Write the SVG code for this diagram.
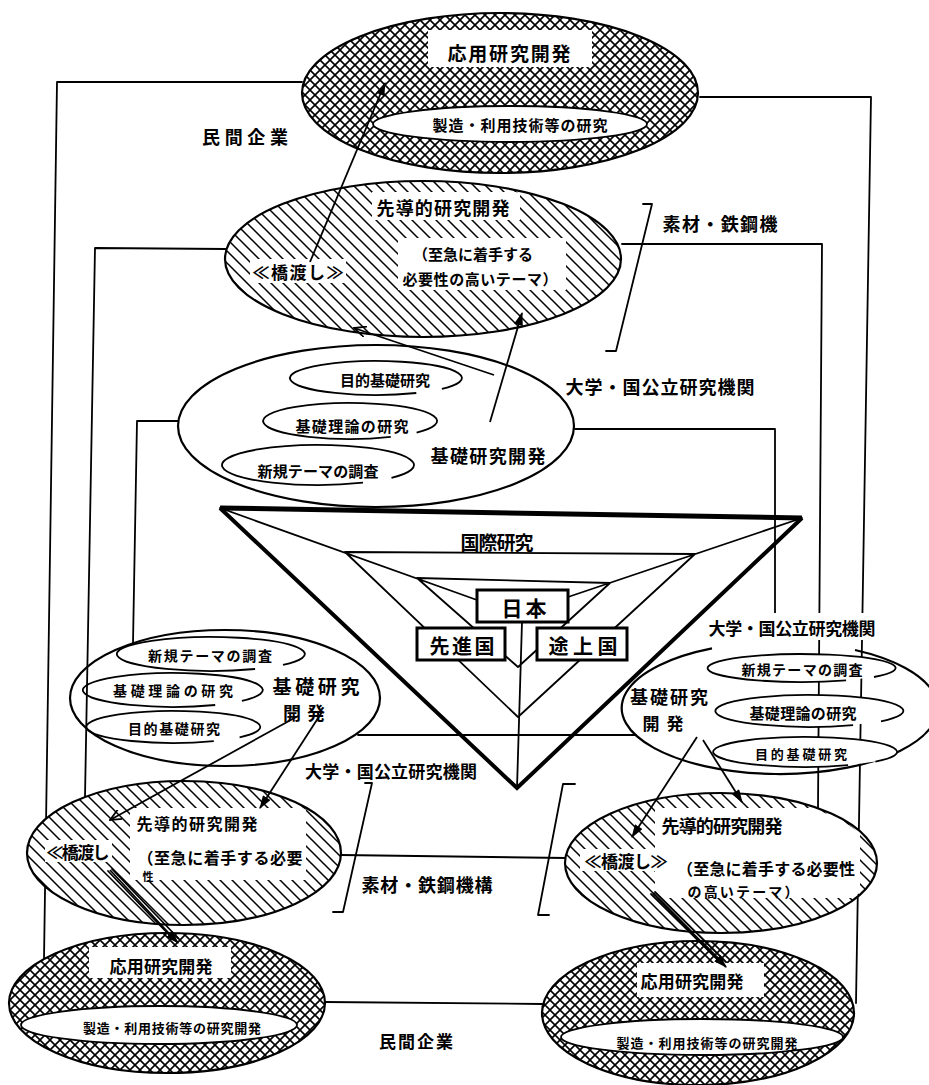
<svg xmlns="http://www.w3.org/2000/svg" width="929" height="1085" viewBox="0 0 929 1085">
<style>
.ln{fill:none;stroke:#000;stroke-width:1.8;stroke-linecap:round;stroke-linejoin:round}
.ol{fill:none;stroke:#000;stroke-width:2.2}
.ie{fill:none;stroke:#000;stroke-width:1.8}
.iw{fill:#fff;stroke:#000;stroke-width:1.8}
.wt{fill:#fff;stroke:none}
.t{font-family:"Noto Sans CJK JP","Noto Sans CJK SC",sans-serif;font-weight:bold;fill:#000;text-anchor:middle;dominant-baseline:central}
.ar{fill:none;stroke:#000;stroke-width:1.8;marker-end:url(#ah)}
.ao{fill:none;stroke:#000;stroke-width:1.8;marker-end:url(#ao)}
.box{fill:#fff;stroke:#000;stroke-width:3}
</style>
<defs>
<pattern id="xh" width="10" height="10" patternUnits="userSpaceOnUse"><path d="M-1,-1L11,11M11,-1L-1,11" stroke="#000" stroke-width="1.6"/></pattern>
<pattern id="dg" width="12" height="12" patternUnits="userSpaceOnUse"><path d="M-1,-1L13,13M-1,11L1,13M11,-1L13,1" stroke="#000" stroke-width="1.5"/></pattern>
<marker id="ah" viewBox="0 0 12 8" refX="11" refY="4" markerWidth="14" markerHeight="9" markerUnits="userSpaceOnUse" orient="auto"><path d="M0,0L12,4L0,8z" fill="#000"/></marker>
<marker id="ao" viewBox="0 0 12 10" refX="11" refY="5" markerWidth="14" markerHeight="11" markerUnits="userSpaceOnUse" orient="auto"><path d="M0,0L11,5L0,10" fill="none" stroke="#000" stroke-width="1.6"/></marker>
<clipPath id="c1"><ellipse cx="500" cy="93" rx="196" ry="78"/></clipPath>
<clipPath id="c2"><ellipse cx="423" cy="259" rx="196" ry="76"/></clipPath>
<clipPath id="c6"><ellipse cx="184" cy="853" rx="155" ry="70"/></clipPath>
<clipPath id="c7"><ellipse cx="721" cy="863" rx="154" ry="68"/></clipPath>
<clipPath id="c8"><ellipse cx="167" cy="1003" rx="156" ry="68"/></clipPath>
<clipPath id="c9"><ellipse cx="698" cy="1013" rx="154" ry="70"/></clipPath>
</defs>
<rect width="929" height="1085" fill="#fff"/>

<g id="connectors">
<path class="ln" d="M302,82L57,82L44,959"/>
<path class="ln" d="M700,97L871,97L856,1003"/>
<path class="ln" d="M226,249L95,248L85,797"/>
<path class="ln" d="M622,244L822,244L818,808"/>
<path class="ln" d="M178,421L137,421L133,643"/>
<path class="ln" d="M575,429L775,429L775,613"/>
<path class="ln" d="M358,735L636,735"/>
<path class="ln" d="M341,855L566,858"/>
<path class="ln" d="M325,1002L542,1004"/>
<path class="ln" d="M643,204L652,204L616,351L606,351"/>
<path class="ln" d="M365,783L372,783L343,912L333,912"/>
<path class="ln" d="M575,784L563,784L538,915L549,915"/>
</g>

<g id="applied-top">
<ellipse cx="500" cy="93" rx="198" ry="80" fill="#fff"/>
<ellipse cx="500" cy="93" rx="198" ry="80" fill="url(#xh)"/>
<rect class="wt" x="428" y="30" width="164" height="37" clip-path="url(#c1)"/>
<ellipse class="iw" cx="510" cy="124" rx="137" ry="18"/>
<ellipse class="ol" cx="500" cy="93" rx="198" ry="80" stroke-width="2.6"/>
<text class="t" x="509" y="52" font-size="19" textLength="123">応用研究開発</text>
<text class="t" x="520" y="124" font-size="15" textLength="175">製造・利用技術等の研究</text>
</g>

<g id="leading-top">
<ellipse cx="423" cy="259" rx="198" ry="78" fill="#fff"/>
<ellipse cx="423" cy="259" rx="198" ry="78" fill="url(#dg)"/>
<g clip-path="url(#c2)">
<rect class="wt" x="372" y="192" width="148" height="28"/>
<rect class="wt" x="398" y="238" width="168" height="52"/>
<rect class="wt" x="250" y="259" width="96" height="24"/>
</g>
<ellipse class="ol" cx="423" cy="259" rx="198" ry="78"/>
<text class="t" x="443" y="207" font-size="18" textLength="133">先導的研究開発</text>
<text class="t" x="473" y="253" font-size="15" textLength="120">（至急に着手する</text>
<text class="t" x="480" y="278" font-size="15" textLength="155">必要性の高いテーマ）</text>
<text class="t" x="298" y="271" font-size="17" textLength="91">≪橋渡し≫</text>
</g>

<g id="basic-top">
<ellipse class="ol" cx="376" cy="426" rx="198" ry="81"/>
<path class="ie" d="M416.3,393A86,17 0 1 1 441.9,388.9"/>
<path class="ie" d="M390.8,436.9A87,18 0 1 1 416.6,432.6"/>
<path class="ie" d="M363,482.7A96,20 0 1 1 391.5,477.9"/>
<text class="t" x="385" y="379" font-size="15" textLength="90">目的基礎研究</text>
<text class="t" x="352" y="425" font-size="15" textLength="113">基礎理論の研究</text>
<text class="t" x="318" y="470" font-size="15" textLength="121">新規テーマの調査</text>
<text class="t" x="488" y="455" font-size="18" textLength="115">基礎研究開発</text>
</g>

<g id="international">
<path class="ln" stroke-width="1.6" d="M220,508L477,600M802,518L568,597M345,552L695,554M417,578L610,583M345,552L518,717L695,554M417,578L518,667L610,583M522,622L517,788"/>
<path d="M220,508L517,788L802,518" fill="none" stroke="#000" stroke-width="4" stroke-linejoin="miter"/>
<path d="M220,508L802,518" fill="none" stroke="#000" stroke-width="5"/>
<text class="t" x="497" y="541" font-size="19" textLength="73">国際研究</text>
<rect class="box" x="477" y="590" width="91" height="32"/>
<text class="t" x="524" y="607" font-size="21" textLength="45">日本</text>
<rect class="box" x="417" y="628" width="88" height="32"/>
<text class="t" x="462" y="645" font-size="20" textLength="65">先進国</text>
<rect class="box" x="537" y="628" width="90" height="32"/>
<text class="t" x="583" y="645" font-size="20" textLength="69">途上国</text>
</g>

<g id="basic-left">
<ellipse class="ol" cx="225" cy="698" rx="155" ry="68"/>
<path class="ie" d="M255.1,669A94,17 0 1 1 283,664.9"/>
<path class="ie" d="M215.2,705A90,17 0 1 1 241.9,700.9"/>
<path class="ie" d="M213.8,741.1A87,16 0 1 1 239.6,737.3"/>
<text class="t" x="210" y="655" font-size="14" textLength="124">新規テーマの調査</text>
<text class="t" x="173" y="690" font-size="14" textLength="120">基礎理論の研究</text>
<text class="t" x="174" y="728" font-size="14" textLength="92">目的基礎研究</text>
<text class="t" x="316" y="685" font-size="19" textLength="87">基礎研究</text>
<text class="t" x="304" y="712" font-size="18" textLength="42">開発</text>
</g>

<g id="basic-right">
<path class="ol" d="M855,650A158,66 0 1 1 712,648.4"/>
<path class="iw" d="M846.1,680.4A94,14 0 1 1 874,677"/>
<path class="iw" d="M853.1,725.1A94,16 0 1 1 881,721.3"/>
<path class="iw" d="M848.1,765.2A92,15 0 1 1 875.5,761.6"/>
<text class="t" x="802" y="669" font-size="14" textLength="121">新規テーマの調査</text>
<text class="t" x="803" y="712" font-size="15" textLength="107">基礎理論の研究</text>
<text class="t" x="801" y="753" font-size="13" textLength="92">目的基礎研究</text>
<text class="t" x="669" y="696" font-size="18" textLength="78">基礎研究</text>
<text class="t" x="663" y="722" font-size="17" textLength="41">開発</text>
</g>

<g id="leading-left">
<ellipse cx="184" cy="853" rx="157" ry="72" fill="#fff"/>
<ellipse cx="184" cy="853" rx="157" ry="72" fill="url(#dg)"/>
<g clip-path="url(#c6)">
<rect class="wt" x="130" y="808" width="176" height="72"/>
<rect class="wt" x="45" y="840" width="67" height="22"/>
</g>
<ellipse class="ol" cx="184" cy="853" rx="157" ry="72"/>
<text class="t" x="197" y="823" font-size="16" textLength="121">先導的研究開発</text>
<text class="t" x="78" y="851" font-size="17" textLength="63">≪橋渡し</text>
<text class="t" x="220" y="857" font-size="16" textLength="165">（至急に着手する必要</text>
<text class="t" x="148" y="876" font-size="11">性</text>
</g>

<g id="leading-right">
<ellipse cx="721" cy="863" rx="156" ry="70" fill="#fff"/>
<ellipse cx="721" cy="863" rx="156" ry="70" fill="url(#dg)"/>
<g clip-path="url(#c7)">
<rect class="wt" x="655" y="808" width="205" height="90"/>
<rect class="wt" x="580" y="849" width="92" height="22"/>
</g>
<ellipse class="ol" cx="721" cy="863" rx="156" ry="70"/>
<text class="t" x="722" y="825" font-size="18" textLength="121">先導的研究開発</text>
<text class="t" x="626" y="860" font-size="17" textLength="83">≪橋渡し≫</text>
<text class="t" x="766" y="868" font-size="16" textLength="178">（至急に着手する必要性</text>
<text class="t" x="743" y="891" font-size="14" textLength="111">の高いテーマ）</text>
</g>

<g id="applied-left">
<ellipse cx="167" cy="1003" rx="158" ry="70" fill="#fff"/>
<ellipse cx="167" cy="1003" rx="158" ry="70" fill="url(#xh)"/>
<rect class="wt" x="89" y="947" width="142" height="31" clip-path="url(#c8)"/>
<ellipse class="iw" cx="159" cy="1025" rx="138" ry="19"/>
<ellipse class="ol" cx="167" cy="1003" rx="158" ry="70" stroke-width="2.6"/>
<text class="t" x="161" y="965" font-size="17" textLength="103">応用研究開発</text>
<text class="t" x="172" y="1027" font-size="13" textLength="178">製造・利用技術等の研究開発</text>
</g>

<g id="applied-right">
<ellipse cx="698" cy="1013" rx="156" ry="72" fill="#fff"/>
<ellipse cx="698" cy="1013" rx="156" ry="72" fill="url(#xh)"/>
<rect class="wt" x="637" y="963" width="127" height="34" clip-path="url(#c9)"/>
<ellipse class="iw" cx="702" cy="1037" rx="141" ry="18"/>
<ellipse class="ol" cx="698" cy="1013" rx="156" ry="72" stroke-width="2.6"/>
<text class="t" x="692" y="980" font-size="17" textLength="103">応用研究開発</text>
<text class="t" x="707" y="1042" font-size="13" textLength="181">製造・利用技術等の研究開発</text>
</g>

<g id="labels">
<text class="t" x="245" y="136" font-size="18" textLength="86">民間企業</text>
<text class="t" x="720" y="223" font-size="18" textLength="115">素材・鉄鋼機</text>
<text class="t" x="660" y="386" font-size="18" textLength="189">大学・国公立研究機関</text>
<text class="t" x="391" y="770" font-size="17" textLength="172">大学・国公立研究機関</text>
<rect class="wt" x="705" y="613" width="175" height="27"/>
<text class="t" x="792" y="627" font-size="17" textLength="167">大学・国公立研究機関</text>
<text class="t" x="427" y="884" font-size="18" textLength="131">素材・鉄鋼機構</text>
<text class="t" x="416" y="1040" font-size="17" textLength="74">民間企業</text>
</g>

<g id="arrows">
<path class="ar" d="M310,262L385,83"/>
<path class="ar" d="M490,422L522,313"/>
<path class="ao" d="M494,375L354,328"/>
<path class="ao" d="M298,716L110,820"/>
<path class="ar" d="M322,712L260,808"/>
<path class="ln" d="M108,871L174,940M112,869L178,938"/>
<path class="ar" d="M110,870L178,943"/>
<path class="ar" d="M697,737L632,837"/>
<path class="ar" d="M703,740L742,802"/>
<path class="ln" d="M651,894L722,964M655,892L726,962"/>
<path class="ar" d="M653,893L726,967"/>
</g>
</svg>
